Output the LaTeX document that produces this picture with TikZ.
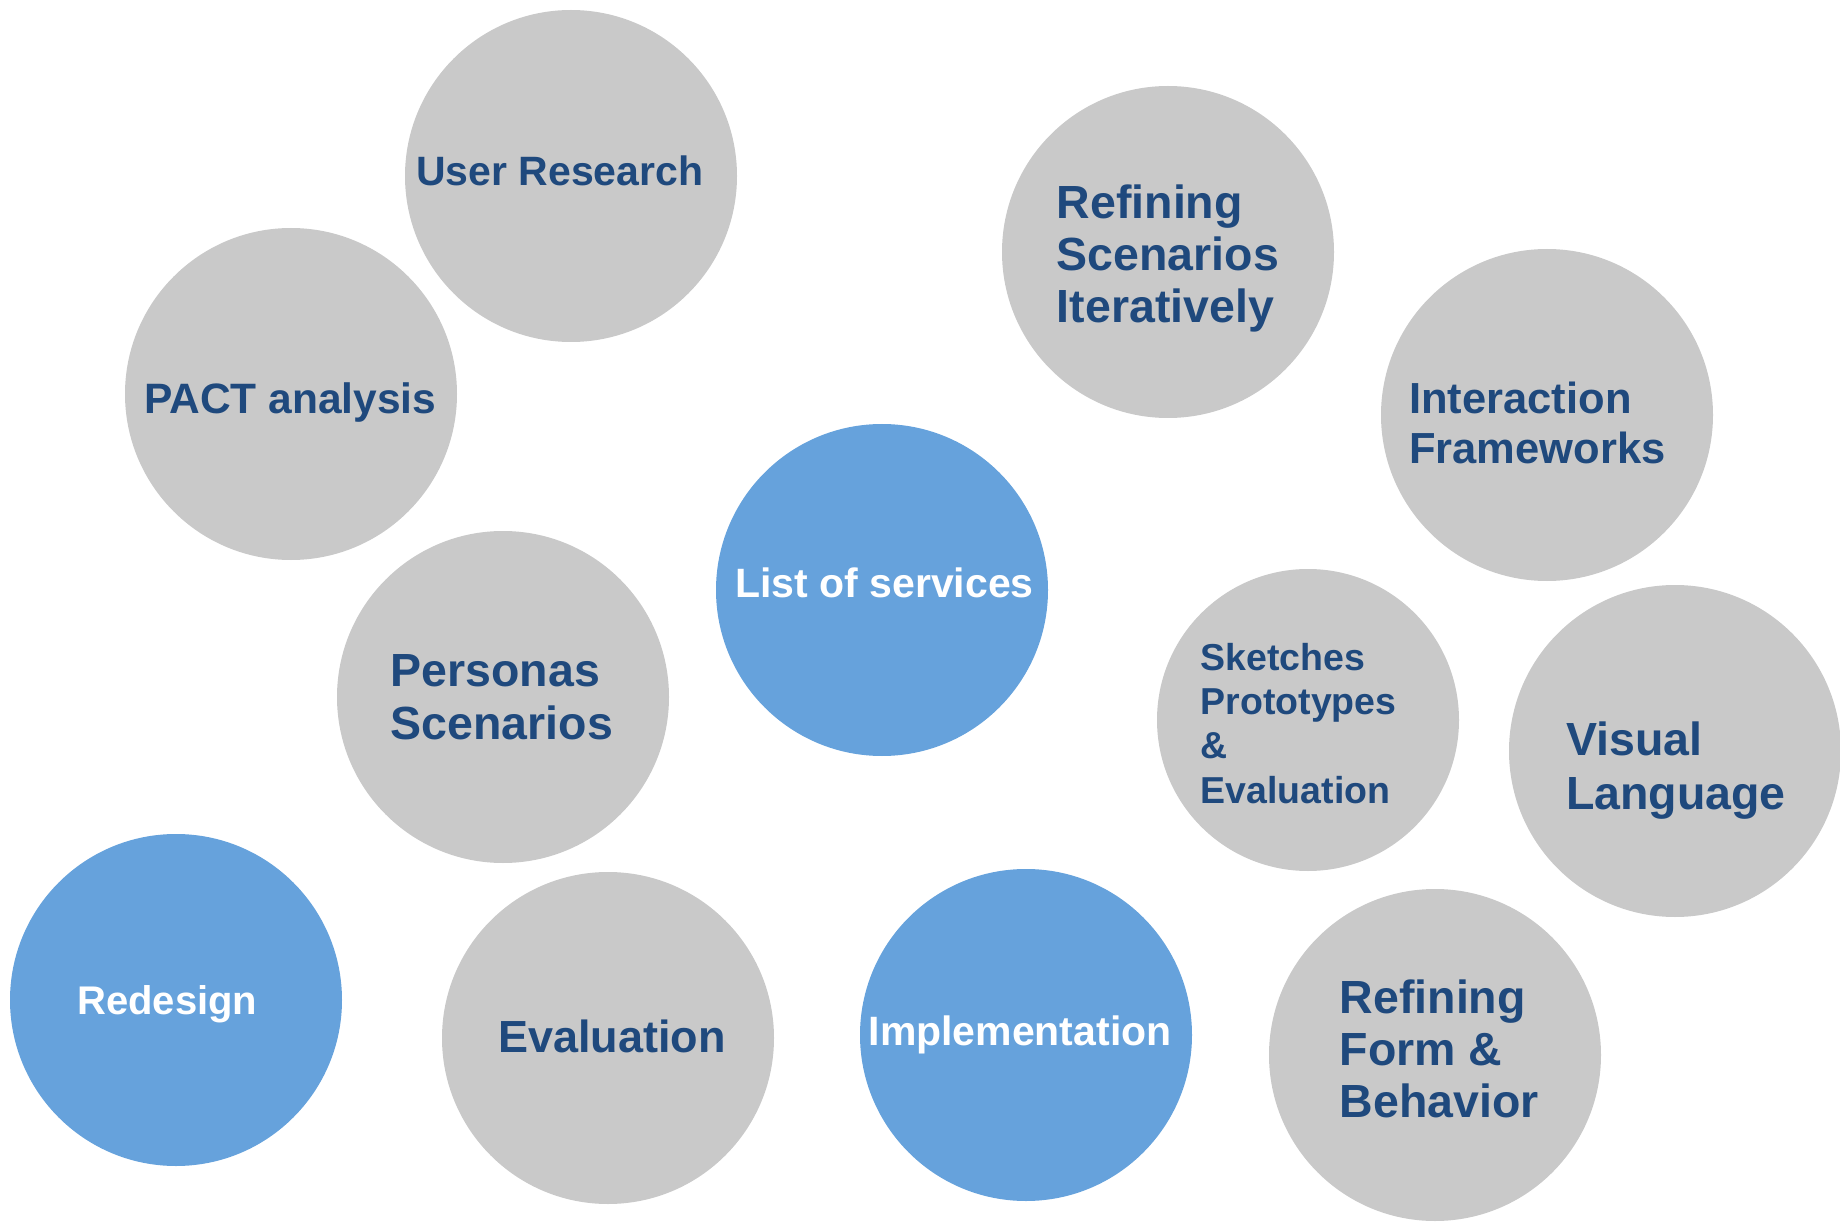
\documentclass[tikz,border=0pt]{standalone}
\usepackage{fontspec}
\setmainfont{Liberation Sans}

\definecolor{ballgray}{HTML}{C9C9C9}
\definecolor{ballblue}{HTML}{66A2DC}
\definecolor{textblue}{HTML}{1F497D}

\begin{document}
\begin{tikzpicture}[x=1pt,y=-1pt]
        \tikzstyle{ball}=[circle, inner sep=0pt, minimum size=332pt]
        \tikzstyle{grayball}=[ball, fill=ballgray]
        \tikzstyle{blueball}=[ball, fill=ballblue]
        \tikzstyle{txt}=[inner sep=0pt, anchor=north west, align=left, text=textblue]
        \tikzstyle{wtxt}=[txt, text=white]
        \tikzset{fs/.style 2 args={font=\fontsize{#1}{#2}\selectfont\bfseries}}

        \useasboundingbox (0,0) rectangle (1840,1222);

        \node[grayball] (ur)   at (571,176)   {};
        \node[grayball] (pact) at (291,394)   {};
        \node[grayball] (pers) at (503,697)   {};
        \node[blueball] (list) at (882,590)   {};
        \node[grayball] (rsi)  at (1168,252)  {};
        \node[grayball] (iaf)  at (1547,415)  {};
        \node[grayball, minimum size=302pt] (spe) at (1308,720) {};
        \node[grayball] (vl)   at (1675,751)  {};
        \node[blueball] (red)  at (176,1000)  {};
        \node[grayball] (eval) at (608,1038)  {};
        \node[blueball] (imp)  at (1026,1035) {};
        \node[grayball] (rfb)  at (1435,1055) {};

        \node[txt, fs={41}{47}]    (urt)   at (416,156)    {User Research};
        \node[txt, fs={42.5}{48}]  (pactt) at (144,383)    {PACT analysis};
        \node[txt, fs={46.5}{53}]  (perst) at (390.5,654)  {Personas\\Scenarios};
        \node[wtxt, fs={41}{47}]   (listt) at (735,568)    {List of services};
        \node[txt, fs={46.5}{52}]  (rsit)  at (1056.6,185) {Refining\\Scenarios\\Iteratively};
        \node[txt, fs={43.5}{50}]  (iaft)  at (1409,382)   {Interaction\\Frameworks};
        \node[txt, fs={37.5}{44.3}] (spet) at (1200.5,643) {Sketches\\Prototypes\\\&\\Evaluation};
        \node[txt, fs={46.5}{54}]  (vlt)   at (1566,722)   {Visual\\Language};
        \node[wtxt, fs={40}{46}]   (redt)  at (77,985)     {Redesign};
        \node[txt, fs={45}{50}]    (evalt) at (498,1020)   {Evaluation};
        \node[wtxt, fs={41}{46}]   (impt)  at (868.4,1016) {Implementation};
        \node[txt, fs={46.5}{52}]  (rfbt)  at (1339.6,980) {Refining\\Form \&\\Behavior};
    \end{tikzpicture}
\end{document}
